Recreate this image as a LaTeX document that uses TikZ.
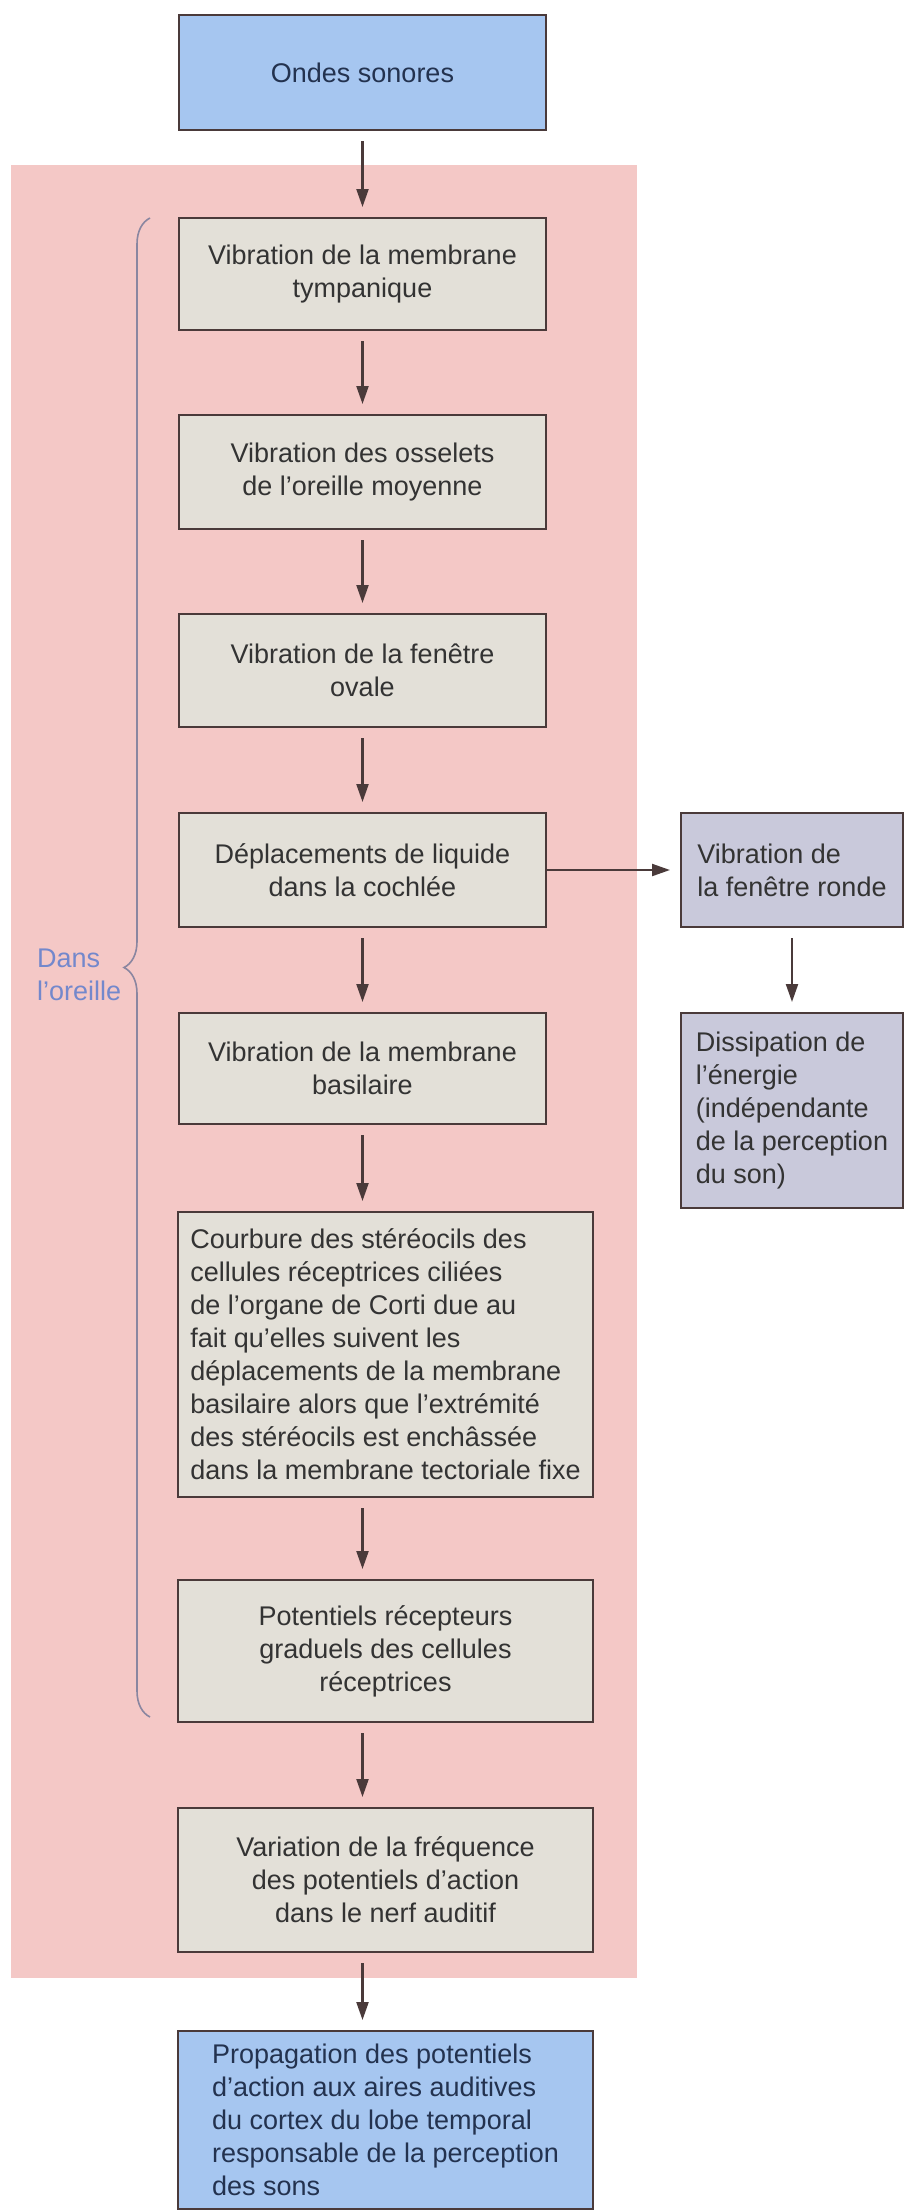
\documentclass[tikz,border=0pt]{standalone}
\usepackage{fontspec}
\setmainfont{Liberation Sans}
\usetikzlibrary{arrows.meta,decorations.pathreplacing}
\definecolor{rose}{HTML}{F4C8C6}
\definecolor{bleu}{HTML}{A6C6F0}
\definecolor{beige}{HTML}{E3E0D8}
\definecolor{lavande}{HTML}{C9C9DB}
\definecolor{bordure}{HTML}{4A3A3A}
\definecolor{encre}{HTML}{333333}
\definecolor{marine}{HTML}{23324F}
\definecolor{legende}{HTML}{7388CC}
\definecolor{accolade}{HTML}{8A86A0}
\begin{document}
\begin{tikzpicture}[x=0.5pt,y=-0.5pt,>={Triangle[length=9pt,width=6pt]},
  every node/.style={font=\fontsize{13.5}{16.5}\selectfont},
  etape/.style={draw=bordure, line width=1pt, fill=beige, text=encre, align=center, inner sep=0pt, minimum width=183.5pt},
  large/.style={etape, minimum width=207.5pt},
  extreme/.style={etape, fill=bleu, text=marine},
  annexe/.style={etape, fill=lavande, align=left, minimum width=111pt},
  lien/.style={->, draw=bordure, line width=1.1pt, shorten <=5pt, shorten >=5pt}]
\useasboundingbox (0,0) rectangle (905,2211);
\fill[rose] (11,165) rectangle (637,1978);
\draw[accolade, line width=0.8pt, decorate, decoration={brace, amplitude=13pt}] (150,1717) -- (150,218);
\node[text=legende, align=left, anchor=west] (oreille) at (30,975) {Dans\\l’oreille};

\node[extreme, minimum height=57.5pt] (ondes) at (362.5,72.5) {Ondes sonores};
\node[etape, minimum height=56pt] (tympan) at (362.5,274) {Vibration de la membrane\\tympanique};
\node[etape, minimum height=57pt] (osselets) at (362.5,472) {Vibration des osselets\\de l’oreille moyenne};
\node[etape, minimum height=56.5pt] (ovale) at (362.5,670.5) {Vibration de la fenêtre\\ovale};
\node[etape, minimum height=57pt] (cochlee) at (362.5,870) {Déplacements de liquide\\dans la cochlée};
\node[etape, minimum height=55.5pt] (basilaire) at (362.5,1068.5) {Vibration de la membrane\\basilaire};
\node[large, align=left, minimum height=142.5pt] (stereo) at (385.5,1354.5) {Courbure des stéréocils des\\cellules réceptrices ciliées\\de l’organe de Corti due au\\fait qu’elles suivent les\\déplacements de la membrane\\basilaire alors que l’extrémité\\des stéréocils est enchâssée\\dans la membrane tectoriale fixe};
\node[large, minimum height=71pt] (recept) at (385.5,1651) {Potentiels récepteurs\\graduels des cellules\\réceptrices};
\node[large, minimum height=72pt] (nerf) at (385.5,1880) {Variation de la fréquence\\des potentiels d’action\\dans le nerf auditif};
\node[large, fill=bleu, text=marine, align=left, minimum height=89pt] (cortex) at (385.5,2120) {Propagation des potentiels\\d’action aux aires auditives\\du cortex du lobe temporal\\responsable de la perception\\des sons};

\node[annexe, minimum height=57pt] (ronde) at (792,870) {Vibration de\\la fenêtre ronde};
\node[annexe, minimum height=97.5pt] (dissip) at (792,1110.5) {Dissipation de\\l’énergie\\(indépendante\\de la perception\\du son)};

\draw[lien] (ondes) -- (tympan);
\draw[lien] (tympan) -- (osselets);
\draw[lien] (osselets) -- (ovale);
\draw[lien] (ovale) -- (cochlee);
\draw[lien] (cochlee) -- (basilaire);
\draw[lien] (basilaire.south) -- (basilaire.south |- stereo.north);
\draw[lien] (stereo.south -| tympan) -- (recept.north -| tympan);
\draw[lien] (recept.south -| tympan) -- (nerf.north -| tympan);
\draw[lien] (nerf.south -| tympan) -- (cortex.north -| tympan);
\draw[lien, shorten <=0pt] (cochlee) -- (ronde);
\draw[lien] (ronde) -- (dissip);
\end{tikzpicture}
\end{document}
